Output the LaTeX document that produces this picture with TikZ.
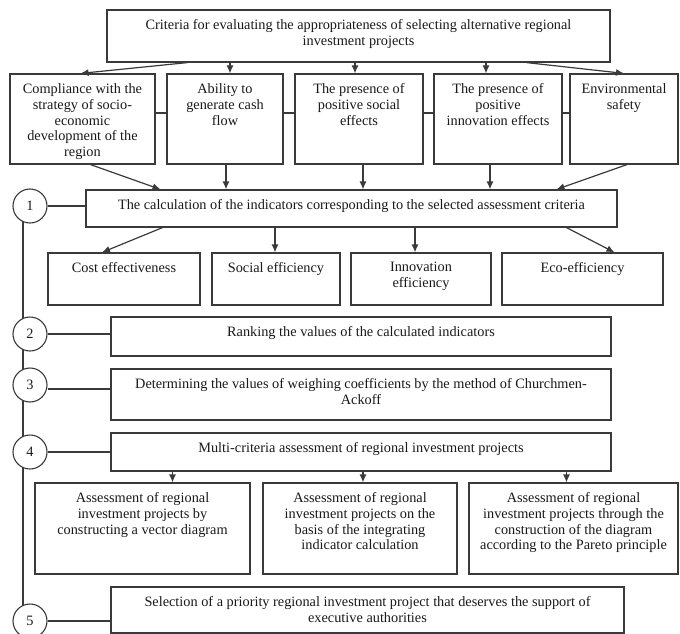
\documentclass[tikz,border=0pt]{standalone}
\usepackage{fontspec}
\setmainfont{Liberation Serif}
\usetikzlibrary{arrows.meta,backgrounds}
\definecolor{linegray}{HTML}{3A3A3A}
\newcommand{\btxt}[3]{\parbox[c][#2][t]{#1}{\centering\vspace{9.5pt}#3\par}}

\begin{document}
\begin{tikzpicture}[x=1pt, y=-1pt,
  font=\fontsize{14.3}{15.8}\selectfont, text=black!90,
  box/.style={draw=linegray, line width=1.2pt, inner sep=0pt, fill=white},
  num/.style={draw=linegray, line width=1.1pt, circle, minimum size=34pt, inner sep=0pt, fill=white},
  link/.style={draw=linegray, line width=1.2pt},
  arr/.style={-{Latex[length=8pt,width=7pt]}, line width=1.2pt, linegray}]

\useasboundingbox (0,0) rectangle (680,634);

\node[box] at (358.5,36) (top)
  {\btxt{503pt}{52pt}{Criteria for evaluating the appropriateness of selecting alternative regional\\investment projects}};

\node[box] at (82.5,119) (c1) {\btxt{145pt}{90pt}{Compliance with the\\strategy of socio-\\economic\\development of the\\region}};
\node[box] at (225,119) (c2) {\btxt{116pt}{90pt}{Ability to\\generate cash\\flow}};
\node[box] at (359,119) (c3) {\btxt{128pt}{90pt}{The presence of\\positive social\\effects}};
\node[box] at (498,119) (c4) {\btxt{128pt}{90pt}{The presence of\\positive\\innovation effects}};
\node[box] at (624,119) (c5) {\btxt{108pt}{90pt}{Environmental\\safety}};

\node[box] at (351.5,208.5) (calc)
  {\btxt{531pt}{37pt}{The calculation of the indicators corresponding to the selected assessment criteria}};

\node[box] at (124,279) (i1) {\btxt{152pt}{52pt}{Cost effectiveness}};
\node[box] at (276,279) (i2) {\btxt{128pt}{52pt}{Social efficiency}};
\node[box] at (421,279) (i3) {\btxt{140pt}{52pt}{Innovation\\efficiency}};
\node[box] at (582.5,279) (i4) {\btxt{161pt}{52pt}{Eco-efficiency}};

\node[box] at (361,336.5) (rank) {\btxt{500pt}{39pt}{Ranking the values of the calculated indicators}};
\node[box] at (361,394.5) (weigh)
  {\btxt{500pt}{51pt}{Determining the values of weighing coefficients by the method of Churchmen-\\Ackoff}};
\node[box] at (361,452) (multi) {\btxt{500pt}{38pt}{Multi-criteria assessment of regional investment projects}};

\node[box] at (142.5,528.5) (a1) {\btxt{215pt}{91pt}{Assessment of regional\\investment projects by\\constructing a vector diagram}};
\node[box] at (360,528.5) (a2) {\btxt{194pt}{91pt}{Assessment of regional\\investment projects on the\\basis of the integrating\\indicator calculation}};
\node[box] at (573.5,528.5) (a3) {\btxt{209pt}{91pt}{Assessment of regional\\investment projects through the\\construction of the diagram\\according to the Pareto principle}};

\node[box] at (367.5,610) (select)
  {\btxt{513pt}{46pt}{Selection of a priority regional investment project that deserves the support of\\executive authorities}};

\node[num] at (30,206) (n1) {1};
\node[num] at (30,334) (n2) {2};
\node[num] at (30,385) (n3) {3};
\node[num] at (30,452) (n4) {4};
\node[num] at (30,621) (n5) {5};

\begin{scope}[on background layer]
\draw[link] ([xshift=-7pt]n1.center) -- ([xshift=-7pt]n5.center);
\end{scope}
\draw[link] (n1.east) -- (n1.east -| calc.west);
\draw[link] (n2.east) -- (n2.east -| rank.west);
\draw[link] ([yshift=-4pt]n3.east) -- ([yshift=-4pt]n3.east -| weigh.west);
\draw[link] (n4.east) -- (n4.east -| multi.west);
\draw[link] (n5.east) -- (n5.east -| select.west);

\draw[link] ([yshift=6pt]c1.east) -- ([yshift=6pt]c2.west);
\draw[link] ([yshift=6pt]c2.east) -- ([yshift=6pt]c3.west);
\draw[link] ([yshift=6pt]c3.east) -- ([yshift=6pt]c4.west);
\draw[link] ([yshift=6pt]c4.east) -- ([yshift=6pt]c5.west);

\draw[arr] ([xshift=-171pt]top.south) -- ([xshift=-2pt]c1.north);
\draw[arr] ([xshift=5pt]c2.north |- top.south) -- ([xshift=5pt]c2.north);
\draw[arr] ([xshift=-4pt]c3.north |- top.south) -- ([xshift=-4pt]c3.north);
\draw[arr] ([xshift=-12pt]c4.north |- top.south) -- ([xshift=-12pt]c4.north);
\draw[arr] ([xshift=168pt]top.south) -- (c5.north);

\draw[arr] ([xshift=8pt]c1.south) -- ([xshift=-191pt]calc.north);
\draw[arr] ([xshift=1pt]c2.south) -- ([xshift=1pt]c2.south |- calc.north);
\draw[arr] ([xshift=4pt]c3.south) -- ([xshift=4pt]c3.south |- calc.north);
\draw[arr] ([xshift=-8pt]c4.south) -- ([xshift=-8pt]c4.south |- calc.north);
\draw[arr] ([xshift=3pt]c5.south) -- ([xshift=205pt]calc.north);

\draw[arr] ([xshift=-189pt]calc.south) -- ([xshift=-22pt]i1.north);
\draw[arr] ([xshift=-1pt]i2.north |- calc.south) -- ([xshift=-1pt]i2.north);
\draw[arr] ([xshift=-6pt]i3.north |- calc.south) -- ([xshift=-6pt]i3.north);
\draw[arr] ([xshift=215pt]calc.south) -- ([xshift=32pt]i4.north);

\draw[arr] ([xshift=30pt]a1.north |- multi.south) -- ([xshift=30pt]a1.north);
\draw[arr] ([xshift=3pt]a2.north |- multi.south) -- ([xshift=3pt]a2.north);
\draw[arr] ([xshift=-7pt]a3.north |- multi.south) -- ([xshift=-7pt]a3.north);
\end{tikzpicture}
\end{document}
